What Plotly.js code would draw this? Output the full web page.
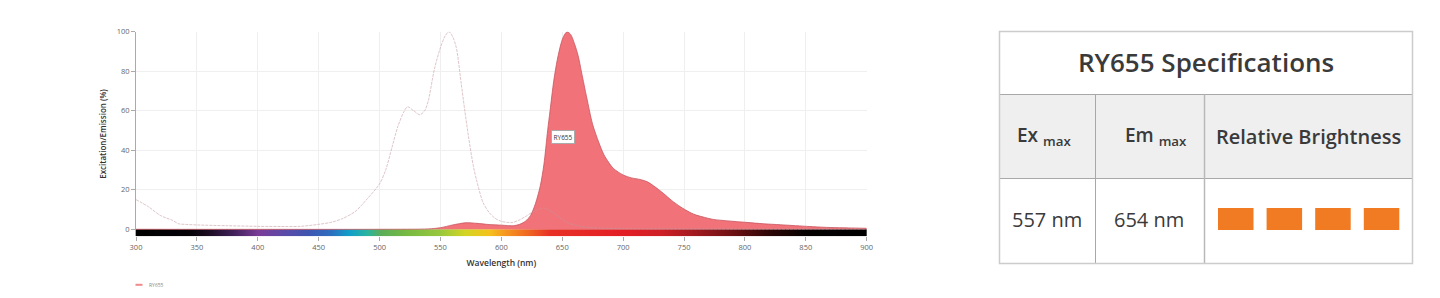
<!DOCTYPE html>
<html>
<head>
<meta charset="utf-8">
<script src="https://cdn.plot.ly/plotly-3.0.1.min.js"></script>
<style>html,body{margin:0;padding:0;background:#fff;}#chart{width:1440px;height:298px;}</style>
</head>
<body>
<div id="chart"></div>
<script>
// ---- Data ----
const dyeName = "RY655";
const tickWl = [300,350,400,450,500,550,600,650,700,750,800,850,900];
const tickPct = [0,20,40,60,80,100];

const exWl  = [300,310,320,330,335,340,350,375,400,425,435,450,460,470,480,485,490,500,505,510,515,520,523,528,533,537,540,545,550,554,557,560,563,567,570,573,577,580,585,590,595,600,605,609,614,620,625,630,635,640,645,650,655,660,665,670,680,700,750,800,850,900];
const exVal = [15,11.5,7,4.5,2.8,2.5,2.2,1.8,1.5,1.4,1.5,2.5,3.5,5.5,9,12,15.5,23,30,41,52,59.5,62,60,58,60,65,81,92,98,100,97.5,92,74,60,47,32,24,13.5,8.5,5.5,4,3.5,3.4,4.5,6.5,8.5,10,10.8,9.5,7.5,5,3.2,2.2,1.5,1,0.6,0.3,0.2,0.1,0.1,0.1];

const emWl  = [300,500,540,550,560,571,580,590,600,610,615,620,624,628,632,635,638,640,643,646,649,651,654,657,660,663,666,670,675,680,684,688,692,700,707,714,720,725,733,740,747,755,760,767,774,787,801,815,829,845,856,870,885,900];
const emVal = [0,0,0.2,0.8,2.2,3.3,3,2.4,2.1,1.8,2.5,4.2,7,13,22,33,50,60,75,86,94,97.5,100,98.5,94,88,79,67,53,44,38,34,30.8,27.5,26,25.2,24,22,18.2,14.5,11.4,8.5,7.2,6,5,4.2,3.5,2.8,2.3,1.7,1.3,0.9,0.7,0.5];

const specWl = [300,345,360,380,400,420,440,460,475,490,500,520,550,570,590,600,620,640,700,730,760,790,820,850,900];
const specColors = ['#000000','#050208','#1c0c24','#40205a','#7a3c98','#5e4aa8','#3f55b0','#2c6fc0','#119fc8','#2ab4a0','#5aae5a','#74b843','#98c83c','#d4d422','#f4c21c','#f6a020','#f06a22','#e83026','#e31e26','#cf1f26','#9e1a1f','#6c1014','#2c0606','#050101','#000000'];

const tableTitle = "RY655 Specifications";
const tableHeaders = ["Ex <sub>max</sub>", "Em <sub>max</sub>", "Relative Brightness"];
const tableValues = ["557 nm", "654 nm"];
const brightness = 4;

// ---- Helpers (pixel -> paper, margins are 0) ----
const W = 1440, H = 298;
const px = x => x / W;
const py = y => 1 - y / H;

const FONT = "Open Sans, Lato, sans-serif";

const traces = [
  {
    type: 'heatmap',
    x: specWl,
    y: [-2.625, -0.875],
    z: [specWl, specWl],
    zmin: 300, zmax: 900,
    colorscale: specWl.map((w, i) => [(w - 300) / 600, specColors[i]]),
    zsmooth: 'best',
    showscale: false,
    hoverinfo: 'skip'
  },
  {
    type: 'scatter', mode: 'lines', name: dyeName + ' Emission',
    x: emWl, y: emVal,
    fill: 'tozeroy',
    fillcolor: 'rgba(240,108,114,0.95)',
    line: {color: '#c85560', width: 0.8, shape: 'spline', smoothing: 0.8},
    showlegend: false
  },
  {
    type: 'scatter', mode: 'lines', name: dyeName + ' Excitation',
    x: exWl, y: exVal,
    line: {color: 'rgba(195,150,158,0.8)', width: 0.7, dash: '3px,1px', shape: 'spline', smoothing: 0.8},
    showlegend: false
  }
];

const shapes = [];
const annotations = [];
const ann = (o) => annotations.push(Object.assign({xref:'paper', yref:'paper', showarrow:false, xanchor:'center', yanchor:'middle'}, o));

// Table
const tX0 = 999.5, tX1 = 1412.5, tY0 = 31.5, tY1 = 263.5;
const rowA = 94.5, rowB = 178.5, colA = 1095.5, colB = 1204.5;
shapes.push({type:'rect', xref:'paper', yref:'paper', x0:px(tX0), x1:px(tX1), y0:py(rowA), y1:py(rowB), fillcolor:'#efeff0', line:{width:0}});
shapes.push({type:'line', xref:'paper', yref:'paper', x0:px(tX0), x1:px(tX1), y0:py(rowA), y1:py(rowA), line:{color:'#a8a8a8', width:1}});
shapes.push({type:'line', xref:'paper', yref:'paper', x0:px(tX0), x1:px(tX1), y0:py(rowB), y1:py(rowB), line:{color:'#a8a8a8', width:1}});
shapes.push({type:'line', xref:'paper', yref:'paper', x0:px(colA), x1:px(colA), y0:py(rowA), y1:py(tY1), line:{color:'#a8a8a8', width:1}});
shapes.push({type:'line', xref:'paper', yref:'paper', x0:px(colB), x1:px(colB), y0:py(rowA), y1:py(tY1), line:{color:'#b8b8b8', width:1.5}});
shapes.push({type:'rect', xref:'paper', yref:'paper', x0:px(tX0), x1:px(tX1), y0:py(tY1), y1:py(tY0), line:{color:'#cccccc', width:1.5}});

ann({x:px(1206), y:py(62), text:tableTitle, font:{family:FONT, size:26, color:'#3a3a3a', weight:600}});
const headerX = [1044, 1156, 1308];
tableHeaders.forEach((t, i) => ann({x:px(headerX[i]), y:py(136), text:t, font:{family:FONT, size:i === 2 ? 20 : 19, color:'#3a3a3a', weight:600}}));
const valueX = [1047, 1149];
tableValues.forEach((t, i) => ann({x:px(valueX[i]), y:py(219), text:t, font:{family:FONT, size:20, color:'#3a3a3a'}}));
for (let i = 0; i < brightness; i++) {
  const x0 = 1218 + i * 48.6;
  shapes.push({type:'rect', xref:'paper', yref:'paper', x0:px(x0), x1:px(x0 + 35.5), y0:py(230), y1:py(208), fillcolor:'#f07b22', line:{width:0}});
}

// Label on emission peak
annotations.push({xref:'x', yref:'y', x:651, y:46.8, text:dyeName, showarrow:false, xanchor:'center', yanchor:'middle',
  bgcolor:'#ffffff', bordercolor:'#aaaaaa', borderwidth:1, borderpad:1.5,
  font:{family:FONT, size:6.5, color:'#333'}});

// Legend (small)
shapes.push({type:'line', xref:'paper', yref:'paper', x0:px(135.5), x1:px(142.5), y0:py(284.8), y1:py(284.8), line:{color:'#f08a8a', width:2}});
ann({x:px(146.5), y:py(285), xanchor:'left', text:dyeName, font:{family:FONT, size:5, color:'#888'}});

const layout = {
  width: W, height: H,
  margin: {l:0, r:0, t:0, b:0},
  paper_bgcolor: '#fff', plot_bgcolor: '#fff',
  showlegend: false,
  xaxis: {
    domain: [136 / W, 866.7 / W],
    range: [300, 900], autorange: false,
    tickvals: tickWl, ticktext: tickWl.map(String),
    ticks: 'outside', ticklen: 4, tickcolor: '#aaa', tickwidth: 1,
    showgrid: true, gridcolor: '#efefef', gridwidth: 1,
    showline: false, zeroline: false,
    tickfont: {family: FONT, size: 7.5, color: '#666'},
    title: {text: 'Wavelength (nm)', standoff: 8, font: {family: FONT, size: 8.5, color: '#333', weight: 600}},
    fixedrange: true
  },
  yaxis: {
    domain: [(H - 236.2) / H, (H - 31.7) / H],
    range: [-3.5, 100], autorange: false,
    tickvals: tickPct, ticktext: tickPct.map(String),
    ticks: 'outside', ticklen: 4, tickcolor: '#aaa', tickwidth: 1,
    showgrid: true, gridcolor: '#efefef', gridwidth: 1,
    showline: true, linecolor: '#aaa', linewidth: 1,
    zeroline: false,
    tickfont: {family: FONT, size: 7.5, color: '#666'},
    title: {text: 'Excitation/Emission (%)', standoff: 8, font: {family: FONT, size: 8, color: '#333', weight: 600}},
    fixedrange: true
  },
  shapes: shapes,
  annotations: annotations
};

Plotly.newPlot('chart', traces, layout, {displayModeBar: false, staticPlot: true});
</script>
</body>
</html>
